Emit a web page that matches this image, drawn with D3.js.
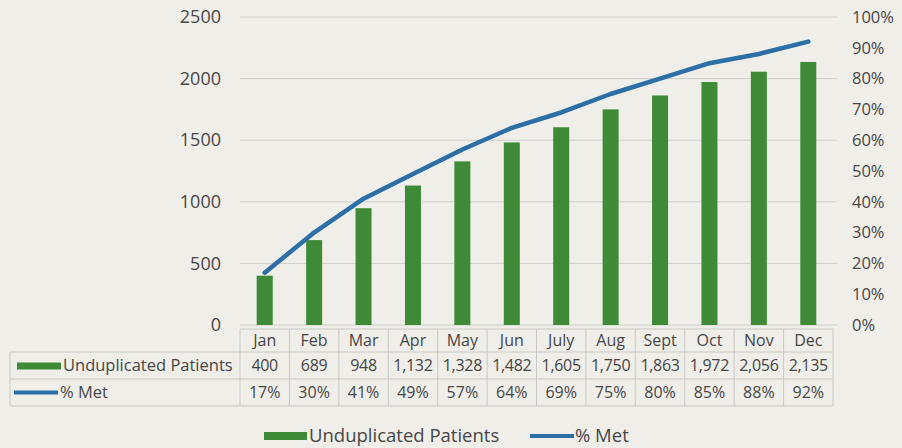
<!DOCTYPE html>
<html><head><meta charset="utf-8">
<script src="https://cdn.jsdelivr.net/npm/d3@7"></script>
<style>
body{margin:0;background:#efeee9;}
svg{display:block;font-family:"Open Sans",Lato,sans-serif;}
</style></head>
<body><svg id="c" width="902" height="448"></svg>
<script>
const months = ["Jan","Feb","Mar","Apr","May","Jun","July","Aug","Sept","Oct","Nov","Dec"];
const patients = [400,689,948,1132,1328,1482,1605,1750,1863,1972,2056,2135];
const pctMet = [0.17,0.30,0.41,0.49,0.57,0.64,0.69,0.75,0.80,0.85,0.88,0.92];
const leftTicks = [0,500,1000,1500,2000,2500];
const rightTicks = [0,0.1,0.2,0.3,0.4,0.5,0.6,0.7,0.8,0.9,1.0];
const seriesNames = ["Unduplicated Patients","% Met"];

const FONT = '"Open Sans",Lato,sans-serif';
const barColor = "#3f8a36", lineColor = "#2c6ea6", textColor = "#474747", gridColor = "#cfcfcb", borderColor = "#c9c9c5";
const svg = d3.select("#c");
const x0 = 240, x1 = 833, yTop = 17, yBot = 325;
const x = d3.scaleBand().domain(months).range([x0, x1]).paddingInner(0).paddingOuter(0);
const yL = d3.scaleLinear().domain([0,2500]).range([yBot, yTop]);
const yR = d3.scaleLinear().domain([0,1]).range([yBot, yTop]);

// gridlines
svg.append("g").selectAll("line").data(leftTicks).join("line")
  .attr("x1", x0).attr("x2", x1 + 4).attr("y1", d=>yL(d)).attr("y2", d=>yL(d))
  .attr("stroke", gridColor).attr("stroke-width", 1);

// left axis
const axL = d3.axisLeft(yL).tickValues(leftTicks).tickSize(0).tickPadding(0).tickFormat(d3.format("d"));
const gL = svg.append("g").attr("transform", "translate(221,0)").call(axL);
gL.select(".domain").remove();
gL.selectAll("text").attr("fill", textColor).style("font-size", "18px").attr("font-family", FONT);

// right axis
const axR = d3.axisRight(yR).tickValues(rightTicks).tickSize(0).tickPadding(0).tickFormat(d3.format(".0%"));
const gR = svg.append("g").attr("transform", "translate(852,0)").call(axR);
gR.select(".domain").remove();
gR.selectAll("text").attr("fill", textColor).style("font-size", "16.5px").attr("font-family", FONT);

// bars
const bw = 16;
svg.append("g").selectAll("rect").data(months).join("rect")
  .attr("x", d => x(d) + x.bandwidth()/2 - bw/2)
  .attr("width", bw)
  .attr("y", (d,i) => yL(patients[i]))
  .attr("height", (d,i) => yBot - yL(patients[i]))
  .attr("fill", barColor);

// line
const line = d3.line().x((d,i)=>x(months[i]) + x.bandwidth()/2).y(d=>yR(d));
svg.append("path").datum(pctMet).attr("d", line)
  .attr("fill","none").attr("stroke", lineColor).attr("stroke-width", 4.5).attr("stroke-linejoin","round").attr("stroke-linecap","round");

// data table
const tTop = 329, r1 = 352, r2 = 379, r3 = 406, tLeft = 10;
const tg = svg.append("g");
const vlines = months.map(m => x(m)).concat([x1]);
tg.selectAll("line.v").data(vlines).join("line").attr("class","v")
  .attr("x1", d=>d).attr("x2", d=>d).attr("y1", tTop).attr("y2", r3)
  .attr("stroke", borderColor);
tg.append("line").attr("x1", tLeft).attr("x2", tLeft).attr("y1", r1).attr("y2", r3).attr("stroke", borderColor);
[[x0,tTop],[tLeft,r1],[tLeft,r2],[tLeft,r3]].forEach(([xs,yy]) => {
  tg.append("line").attr("x1", xs).attr("x2", x1).attr("y1", yy).attr("y2", yy).attr("stroke", borderColor);
});
const cx = m => x(m) + x.bandwidth()/2;
const cellFs = "16px";
tg.selectAll("text.m").data(months).join("text").attr("class","m")
  .attr("x", cx).attr("y", (tTop+r1)/2 + 1).attr("text-anchor","middle").attr("dominant-baseline","middle")
  .attr("fill", textColor).style("font-size",cellFs).text(d=>d);
tg.selectAll("text.p").data(patients).join("text").attr("class","p")
  .attr("x", (d,i)=>cx(months[i])).attr("y", (r1+r2)/2 + 1).attr("text-anchor","middle").attr("dominant-baseline","middle")
  .attr("fill", textColor).style("font-size",cellFs).style("letter-spacing","-0.3px").text(d=>d3.format(",")(d));
tg.selectAll("text.q").data(pctMet).join("text").attr("class","q")
  .attr("x", (d,i)=>cx(months[i])).attr("y", (r2+r3)/2 + 1).attr("text-anchor","middle").attr("dominant-baseline","middle")
  .attr("fill", textColor).style("font-size",cellFs).text(d=>d3.format(".0%")(d));
// row labels
tg.append("rect").attr("x", 17).attr("y", (r1+r2)/2 - 3).attr("width", 44).attr("height", 7).attr("fill", barColor);
tg.append("text").attr("x", 63).attr("y", (r1+r2)/2 + 1).attr("dominant-baseline","middle")
  .attr("fill", textColor).style("font-size","16.5px").text(seriesNames[0]);
tg.append("line").attr("x1", 14).attr("x2", 58).attr("y1", (r2+r3)/2).attr("y2", (r2+r3)/2)
  .attr("stroke", lineColor).attr("stroke-width", 4);
tg.append("text").attr("x", 60).attr("y", (r2+r3)/2 + 1).attr("dominant-baseline","middle")
  .attr("fill", textColor).style("font-size","16.5px").text(seriesNames[1]);

// legend
const ly = 436;
const lg = svg.append("g");
lg.append("rect").attr("x", 264).attr("y", ly-4).attr("width", 43).attr("height", 8).attr("fill", barColor);
lg.append("text").attr("x", 309).attr("y", ly+1).attr("dominant-baseline","middle")
  .attr("fill", textColor).style("font-size","18.5px").text(seriesNames[0]);
lg.append("line").attr("x1", 530).attr("x2", 574).attr("y1", ly).attr("y2", ly)
  .attr("stroke", lineColor).attr("stroke-width", 4);
lg.append("text").attr("x", 575).attr("y", ly+1).attr("dominant-baseline","middle")
  .attr("fill", textColor).style("font-size","18.5px").text(seriesNames[1]);
</script></body></html>
